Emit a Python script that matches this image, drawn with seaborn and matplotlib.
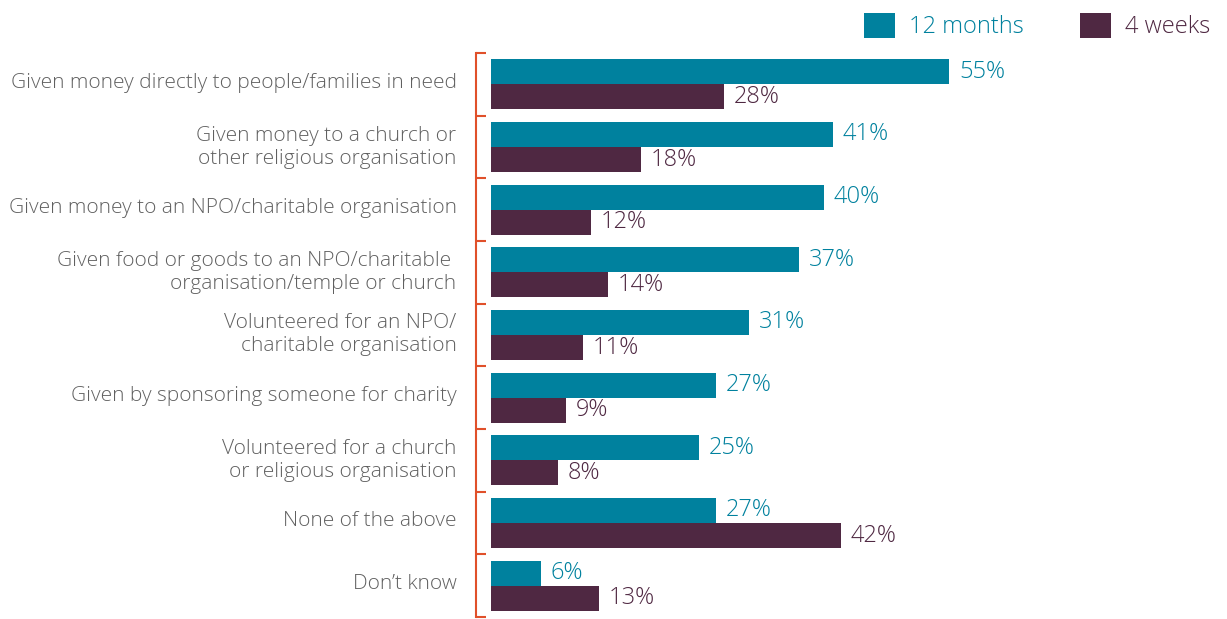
import pandas as pd
import seaborn as sns
import matplotlib.pyplot as plt
import matplotlib.transforms as mtransforms

# Giving behaviour, share of respondents
categories = [
    "Given money directly to people/families in need",
    "Given money to a church or\nother religious organisation",
    "Given money to an NPO/charitable organisation",
    "Given food or goods to an NPO/charitable \norganisation/temple or church",
    "Volunteered for an NPO/\ncharitable organisation",
    "Given by sponsoring someone for charity",
    "Volunteered for a church\nor religious organisation",
    "None of the above",
    "Don\u2019t know",
]
months_12 = [55, 41, 40, 37, 31, 27, 25, 27, 6]
weeks_4 = [28, 18, 12, 14, 11, 9, 8, 42, 13]
series = ["12 months", "4 weeks"]
colors = ["#00819e", "#4f2842"]

df = pd.DataFrame({
    "category": categories * 2,
    "period": [series[0]] * len(categories) + [series[1]] * len(categories),
    "value": months_12 + weeks_4,
})

sns.set_style("white")
plt.rcParams["font.family"] = ["Open Sans", "DejaVu Sans"]

fig = plt.figure(figsize=(12.27, 6.19), dpi=100)
ax = fig.add_axes([476 / 1227, 2 / 619, 1 - 476 / 1227, (617 - 53) / 619])

sns.barplot(data=df, y="category", x="value", hue="period", order=categories,
            hue_order=series, palette=colors, width=0.8, saturation=1,
            orient="h", ax=ax, legend=True, linewidth=0)

for cont, col in zip(ax.containers, colors):
    ax.bar_label(cont, labels=[f"{v:.0f}%" for v in cont.datavalues],
                 padding=7, color=col, fontsize=17, fontweight="light")

ax.set_xlim(-1.8, (1227 - 476) / 8.33 - 1.8)
ax.set_ylim(len(categories) - 0.5, -0.5)
ax.set_xlabel("")
ax.set_ylabel("")
ax.set_xticks([])

spine_col = "#e0502a"
for s in ["top", "right", "bottom"]:
    ax.spines[s].set_visible(False)
ax.spines["left"].set_color(spine_col)
ax.spines["left"].set_linewidth(1.5)

ax.set_yticks(range(len(categories)))
ax.set_yticklabels(categories, fontsize=15, color="#606060", fontweight="light",
                   linespacing=1.2)
ax.tick_params(axis="y", which="major", left=False, length=0, pad=14)
shift = mtransforms.ScaledTranslation(0, 4 / 100, fig.dpi_scale_trans)
for lab in ax.get_yticklabels():
    lab.set_transform(lab.get_transform() + shift)
ax.set_yticks([i - 0.5 for i in range(len(categories) + 1)], minor=True)
ax.tick_params(axis="y", which="minor", left=True, direction="in", length=7,
               width=1.5, color=spine_col)

leg = ax.legend(loc="center right", bbox_to_anchor=(1.0, 1.048), ncol=2,
                frameon=False, fontsize=17, handlelength=1.3, handleheight=1.3,
                handletextpad=0.6, columnspacing=2.4, borderaxespad=0.3)
for txt, col in zip(leg.get_texts(), colors):
    txt.set_color(col)
    txt.set_fontweight("light")

fig.savefig("out.png", dpi=100)
